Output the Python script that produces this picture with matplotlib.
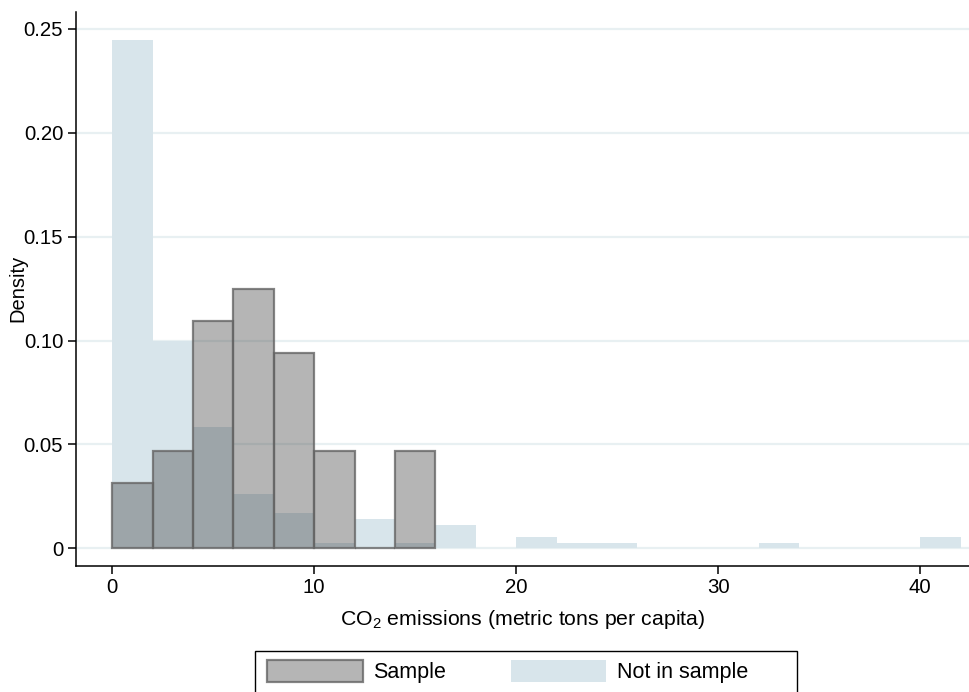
import numpy as np
import matplotlib
matplotlib.use("Agg")
import matplotlib.pyplot as plt
from matplotlib.patches import Rectangle

plt.rcParams['font.family'] = ['Liberation Sans', 'DejaVu Sans']
plt.rcParams['mathtext.fontset'] = 'custom'
plt.rcParams['mathtext.rm'] = 'Liberation Sans'

# bin left edges (width 2)
bin_width = 2
sample_edges = [0, 2, 4, 6, 8, 10, 12, 14]
sample_density = [0.0313, 0.0469, 0.1094, 0.1250, 0.0938, 0.0469, 0.0, 0.0469]

other_edges = [0, 2, 4, 6, 8, 10, 12, 14, 16, 18, 20, 22, 24, 26, 28, 30, 32, 34, 36, 38, 40]
other_density = [0.2445, 0.0999, 0.0584, 0.0260, 0.0172, 0.0026, 0.0142, 0.0026, 0.0111, 0.0,
                 0.0056, 0.0028, 0.0028, 0.0, 0.0, 0.0, 0.0028, 0.0, 0.0, 0.0, 0.0056]

yticks = [0, 0.05, 0.10, 0.15, 0.20, 0.25]
ytick_labels = ['0', '0.05', '0.10', '0.15', '0.20', '0.25']
xticks = [0, 10, 20, 30, 40]

W, H = 970, 692
fig = plt.figure(figsize=(W / 100, H / 100), dpi=100)
ax = fig.add_axes([0.078, 0.1825, 0.922, 0.8002])

# gridlines under the bars
ax.set_axisbelow(True)
ax.grid(axis='y', color='#e8f0f2', linewidth=1.6)
ax.grid(axis='x', visible=False)

blue = ax.bar(other_edges, other_density, width=bin_width, align='edge',
              color='#d8e5eb', edgecolor='none', label='Not in sample', zorder=2)
gray = ax.bar(sample_edges, sample_density, width=bin_width, align='edge',
              facecolor=(0.25, 0.25, 0.25, 0.385), edgecolor=(0.4, 0.4, 0.4, 0.8),
              linewidth=1.6, label='Sample', zorder=3)

ax.set_xlim(-1.81, 42.46)
ax.set_ylim(-0.0083, 0.258)
ax.set_yticks(yticks)
ax.set_yticklabels(ytick_labels)
ax.set_xticks(xticks)
ax.tick_params(axis='both', labelsize=14.7, length=6, width=1.1, direction='out', pad=3)

for side in ['top', 'right']:
    ax.spines[side].set_visible(False)
for side in ['left', 'bottom']:
    ax.spines[side].set_linewidth(1.1)

ax.set_ylabel('Density', fontsize=14.5, labelpad=-3)
ax.set_xlabel(r'CO$_\mathregular{2}$ emissions (metric tons per capita)', fontsize=15.3, labelpad=7.5)

# legend box (runs off the bottom of the figure, like the original)
fig.patches.append(Rectangle((255 / W, -0.05), 542 / W, (H - 651) / H + 0.05,
                             transform=fig.transFigure, fill=False,
                             edgecolor='black', linewidth=1.0))
leg = fig.legend(handles=[gray, blue], labels=['Sample', 'Not in sample'],
                 loc='upper left', bbox_to_anchor=(267 / W, 1 - 660 / H),
                 ncol=2, fontsize=15.5, frameon=False,
                 handlelength=4.45, handleheight=1.16, handletextpad=0.48,
                 columnspacing=3.0, borderpad=0, borderaxespad=0)

fig.savefig('out.png', dpi=100)
